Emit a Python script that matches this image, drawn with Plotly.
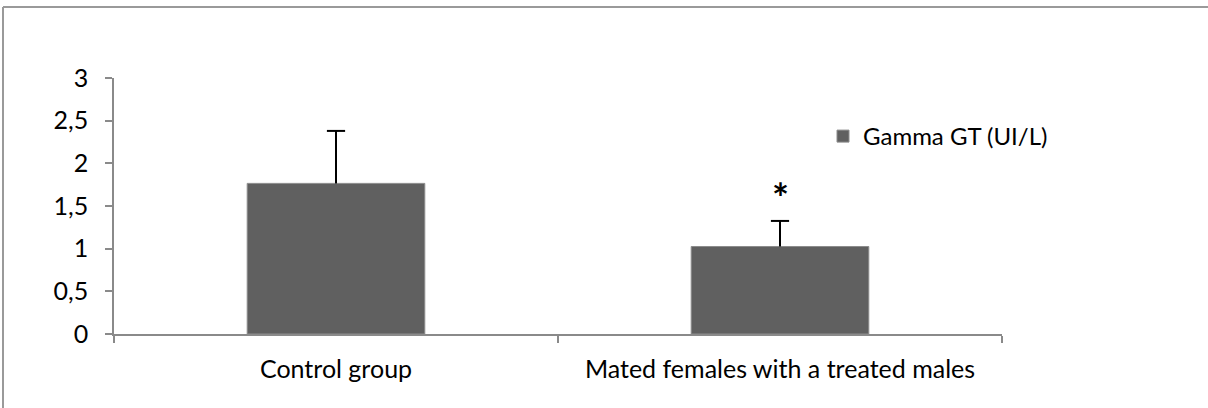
import plotly.graph_objects as go

# Serum gamma GT by group
groups = ["Control group", "Mated females with a treated males"]
gamma_gt = [1.765, 1.025]
gamma_gt_sd = [0.615, 0.30]
series_name = "Gamma GT (UI/L)"
signif_marks = ["", "*"]
signif_y = [None, 1.59]

W, H = 1208, 408
L, R, T, B = 114, 206, 78, 74
FONT = "Lato"
FSIZE = 25
AXIS_GREY = "#8a8a8a"
BAR_GREY = "#606060"

fig = go.Figure()
fig.add_trace(go.Bar(
    x=groups,
    y=gamma_gt,
    name=series_name,
    width=0.4,
    marker=dict(color=BAR_GREY, line=dict(color="#8c8c8c", width=1)),
    showlegend=True,
))

# one-sided (upper) error bars: stem from bar top, cap at bar top + SD
tops = [v + e for v, e in zip(gamma_gt, gamma_gt_sd)]
fig.add_trace(go.Scatter(
    x=groups,
    y=tops,
    mode="markers",
    marker=dict(symbol="line-ew", size=13, line=dict(color="black", width=2)),
    error_y=dict(type="data", symmetric=False, array=[0] * len(tops),
                 arrayminus=gamma_gt_sd, color="black", thickness=2, width=0),
    showlegend=False,
    hoverinfo="skip",
))

for g, mark, yv in zip(groups, signif_marks, signif_y):
    if mark:
        fig.add_annotation(x=g, y=yv, text=f"<b>{mark}</b>", showarrow=False,
                           font=dict(family=FONT, size=40, color="black"),
                           xanchor="center", yanchor="middle")

# chart-area frame: top and left edges
pw, ph = W - L - R, H - T - B
fx0 = (3 - L) / pw
fy_top = (H - 7 - B) / ph
frame = dict(type="line", xref="paper", yref="paper",
             line=dict(color="#9a9a9a", width=2), layer="below")
fig.add_shape(x0=fx0, x1=(W - L) / pw, y0=fy_top, y1=fy_top, **frame)
fig.add_shape(x0=fx0, x1=fx0, y0=fy_top, y1=-B / ph, **frame)

fig.update_layout(
    width=W, height=H,
    margin=dict(l=L, r=R, t=T, b=B),
    paper_bgcolor="white", plot_bgcolor="white",
    separators=",.",
    font=dict(family=FONT, size=FSIZE, color="black"),
    bargap=0.6,
    legend=dict(x=(823 - L) / pw, y=(H - 114 - B) / ph, xanchor="left", yanchor="top",
                bgcolor="rgba(0,0,0,0)", font=dict(size=24), itemwidth=30),
    xaxis=dict(type="category", showline=True, linecolor=AXIS_GREY, linewidth=1.5,
               ticks="outside", tickson="boundaries", ticklen=7, tickcolor=AXIS_GREY,
               tickwidth=1.5, showgrid=False, zeroline=False,
               ticklabelstandoff=12),
    yaxis=dict(range=[0, 3], dtick=0.5, showline=True, linecolor=AXIS_GREY, linewidth=1.5,
               ticks="outside", ticklen=7, tickcolor=AXIS_GREY, tickwidth=1.5,
               showgrid=False, zeroline=False, ticklabelstandoff=12,
               tickfont=dict(size=FSIZE)),
)

fig.write_html(
    "out.html",
    post_script="document.body.style.margin='0';document.body.style.overflow='hidden';",
)
